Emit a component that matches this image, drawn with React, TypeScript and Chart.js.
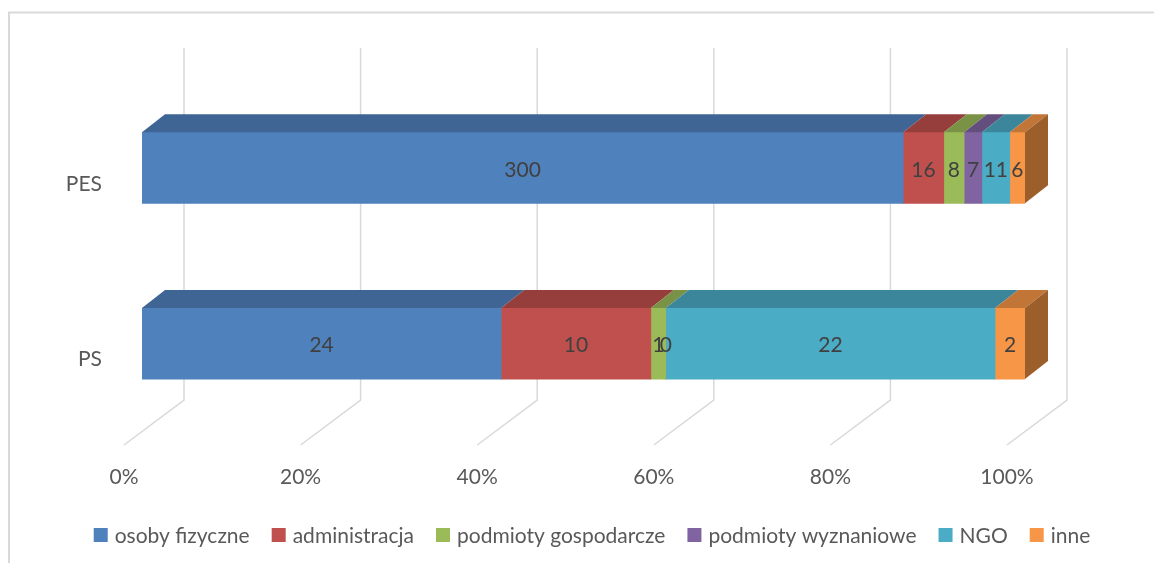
import React, { useEffect, useRef } from 'react';
import { Chart, registerables } from 'chart.js';

Chart.register(...registerables);

// ---- data ----
const categories = ['PES', 'PS'];
const seriesNames = [
  'osoby fizyczne',
  'administracja',
  'podmioty gospodarcze',
  'podmioty wyznaniowe',
  'NGO',
  'inne',
];
const osobyFizyczne = [300, 24];
const administracja = [16, 10];
const podmiotyGospodarcze = [8, 1];
const podmiotyWyznaniowe = [7, 0];
const ngo = [11, 22];
const inne = [6, 2];
const xTickValues = [0, 20, 40, 60, 80, 100];

const seriesValues = [osobyFizyczne, administracja, podmiotyGospodarcze, podmiotyWyznaniowe, ngo, inne];
const seriesColors = ['#4F81BD', '#C0504D', '#9BBB59', '#8064A2', '#4BACC6', '#F79646'];

// ---- styles ----
const W = 1154;
const H = 563;
const FONT = 'Lato, "Open Sans", sans-serif';
const FONT_SIZE = 21;
const AXIS_COLOR = '#595959';
const LABEL_COLOR = '#404040';
const GRID_COLOR = '#D9D9D9';
const BAR_DX = 23;
const BAR_DY = 18;
const GRID_BACK_DX = 42;
const GRID_FRONT_DX = -18;
const GRID_TOP = 48;
const FLOOR_BACK = 400;
const FLOOR_FRONT = 445;
const LEGEND_CENTER_X = 592;
const LEGEND_Y = 535;

function shade(hex: string, f: number) {
  const n = parseInt(hex.slice(1), 16);
  const r = Math.round(((n >> 16) & 255) * f);
  const g = Math.round(((n >> 8) & 255) * f);
  const b = Math.round((n & 255) * f);
  return `rgb(${r},${g},${b})`;
}

const totals = categories.map((_, j) => seriesValues.reduce((s, arr) => s + arr[j], 0));

const excel3d = {
  id: 'excel3d',
  beforeDraw(chart: any) {
    const ctx = chart.ctx;
    ctx.save();
    ctx.fillStyle = '#ffffff';
    ctx.fillRect(0, 0, W, H);
    ctx.strokeStyle = GRID_COLOR;
    ctx.lineWidth = 2;
    ctx.beginPath();
    ctx.moveTo(9, H);
    ctx.lineTo(9, 12.5);
    ctx.lineTo(W, 12.5);
    ctx.stroke();
    ctx.restore();
  },
  beforeDatasetsDraw(chart: any) {
    const ctx = chart.ctx;
    const xs = chart.scales.x;
    ctx.save();
    ctx.strokeStyle = GRID_COLOR;
    ctx.lineWidth = 1.5;
    xTickValues.forEach((v) => {
      const px = xs.getPixelForValue(v);
      ctx.beginPath();
      ctx.moveTo(px + GRID_BACK_DX, GRID_TOP);
      ctx.lineTo(px + GRID_BACK_DX, FLOOR_BACK);
      ctx.lineTo(px + GRID_FRONT_DX, FLOOR_FRONT);
      ctx.stroke();
    });
    ctx.restore();
  },
  afterDatasetsDraw(chart: any) {
    const ctx = chart.ctx;
    ctx.save();
    const n = chart.data.datasets.length;
    // top faces
    for (let i = 0; i < n; i++) {
      const meta = chart.getDatasetMeta(i);
      meta.data.forEach((el: any) => {
        const p = el.getProps(['x', 'y', 'base', 'height'], true);
        const x0 = Math.min(p.base, p.x);
        const x1 = Math.max(p.base, p.x);
        if (x1 - x0 < 0.1) return;
        const top = p.y - p.height / 2;
        ctx.fillStyle = shade(seriesColors[i], 0.78);
        ctx.beginPath();
        ctx.moveTo(x0, top);
        ctx.lineTo(x1, top);
        ctx.lineTo(x1 + BAR_DX, top - BAR_DY);
        ctx.lineTo(x0 + BAR_DX, top - BAR_DY);
        ctx.closePath();
        ctx.fill();
      });
    }
    // side faces
    categories.forEach((_, j) => {
      let last = -1;
      for (let i = 0; i < n; i++) if (seriesValues[i][j] > 0) last = i;
      if (last < 0) return;
      const el = chart.getDatasetMeta(last).data[j];
      const p = el.getProps(['x', 'y', 'base', 'height'], true);
      const xe = Math.max(p.base, p.x);
      const top = p.y - p.height / 2;
      const bot = p.y + p.height / 2;
      ctx.fillStyle = shade(seriesColors[last], 0.63);
      ctx.beginPath();
      ctx.moveTo(xe, top);
      ctx.lineTo(xe + BAR_DX, top - BAR_DY);
      ctx.lineTo(xe + BAR_DX, bot - BAR_DY);
      ctx.lineTo(xe, bot);
      ctx.closePath();
      ctx.fill();
    });
    // labels
    ctx.font = `${FONT_SIZE}px ${FONT}`;
    ctx.fillStyle = LABEL_COLOR;
    ctx.textAlign = 'center';
    ctx.textBaseline = 'middle';
    for (let i = 0; i < n; i++) {
      const meta = chart.getDatasetMeta(i);
      meta.data.forEach((el: any, j: number) => {
        const p = el.getProps(['x', 'y', 'base'], true);
        ctx.fillText(String(seriesValues[i][j]), (p.x + p.base) / 2, p.y + 2);
      });
    }
    ctx.restore();
  },
  afterDraw(chart: any) {
    const ctx = chart.ctx;
    ctx.save();
    ctx.font = `${FONT_SIZE}px ${FONT}`;
    ctx.textBaseline = 'middle';
    ctx.textAlign = 'left';
    const box = 14;
    const gapText = 7;
    const gapItem = 22;
    const items = chart.data.datasets.map((ds: any) => ({
      label: ds.label,
      color: ds.backgroundColor,
      w: ctx.measureText(ds.label).width,
    }));
    const total = items.reduce((s: number, it: any) => s + box + gapText + it.w, 0) + gapItem * (items.length - 1);
    let x = LEGEND_CENTER_X - total / 2;
    items.forEach((it: any) => {
      ctx.fillStyle = it.color;
      ctx.fillRect(x, LEGEND_Y - box / 2, box, box);
      ctx.fillStyle = AXIS_COLOR;
      ctx.fillText(it.label, x + box + gapText, LEGEND_Y + 1);
      x += box + gapText + it.w + gapItem;
    });
    ctx.restore();
  },
};

export default function App() {
  const ref = useRef<HTMLCanvasElement | null>(null);
  useEffect(() => {
    document.body.style.margin = '0';
    const canvas = ref.current;
    if (!canvas) return;
    const chart = new Chart(canvas, {
      type: 'bar',
      data: {
        labels: categories,
        datasets: seriesValues.map((vals, i) => ({
          label: seriesNames[i],
          data: vals.map((v, j) => (v / totals[j]) * 100),
          backgroundColor: seriesColors[i],
          borderWidth: 0,
          barThickness: 71,
        })),
      },
      options: {
        indexAxis: 'y',
        animation: false,
        responsive: false,
        devicePixelRatio: 1,
        layout: { padding: { left: 0, right: 129, top: 80, bottom: 0 } },
        plugins: {
          legend: { display: false },
          tooltip: { enabled: false },
        },
        scales: {
          x: {
            stacked: true,
            min: 0,
            max: 100,
            grid: { display: false, drawTicks: false, tickLength: 0 },
            border: { display: false },
            afterFit: (s: any) => {
              s.height = 131.6;
            },
            afterBuildTicks: (s: any) => {
              s.ticks = xTickValues.map((v) => ({ value: v }));
            },
            ticks: {
              callback: (v: any) => `${v}%`,
              labelOffset: GRID_FRONT_DX,
              padding: 33,
              color: AXIS_COLOR,
              font: { family: FONT, size: FONT_SIZE },
              maxRotation: 0,
              autoSkip: false,
            },
          },
          y: {
            stacked: true,
            grid: { display: false, drawTicks: false, tickLength: 0 },
            border: { display: false },
            afterFit: (s: any) => {
              s.width = 142;
            },
            ticks: {
              padding: 40,
              labelOffset: 16,
              color: AXIS_COLOR,
              font: { family: FONT, size: FONT_SIZE },
            },
          },
        },
      },
      plugins: [excel3d],
    });
    return () => chart.destroy();
  }, []);
  return (
    <div style={{ width: W, height: H }}>
      <canvas ref={ref} width={W} height={H} style={{ display: 'block' }} />
    </div>
  );
}
